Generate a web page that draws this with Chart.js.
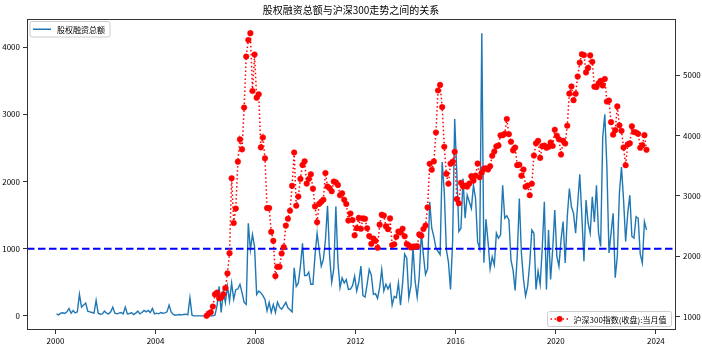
<!DOCTYPE html>
<html>
<head>
<meta charset="utf-8">
<script src="https://cdn.jsdelivr.net/npm/chart.js@4"></script>
<style>
  html, body { margin: 0; padding: 0; background: #fff; }
</style>
</head>
<body>
<canvas id="myChart" width="702" height="347"></canvas>
<script>
const titleText = '股权融资总额与沪深300走势之间的关系';
const equityLabel = '股权融资总额';
const csiLabel = '沪深300指数(收盘):当月值';

// monthly series, first month given by start
const equityStart = { year: 2000, month: 1 };
const equityFinancing = [
  30, 15, 40, 45, 35, 60, 110, 40, 80, 45, 60, 320,
  130, 160, 190, 70, 60, 50, 40, 230, 40, 25, 30, 70,
  40, 30, 60, 130, 40, 30, 40, 50, 30, 130, 30, 35,
  50, 20, 40, 70, 30, 50, 80, 60, 80, 50, 110, 30,
  40, 30, 50, 40, 45, 60, 160, 60, 20, 10, 15, 20,
  15, 20, 25, 15, 270, 10, 0, 0, 0, 0, 0, 0,
  0, 0, 0, 0, 10, 150, 440, 50, 370, 200, 440, 220,
  490, 250, 390, 400, 470, 345, 200, 170, 1380, 985, 1210, 1030,
  320, 370, 345, 300, 245, 75, 200, 50, 170, 50, 205, 130,
  100, 150, 200, 120, 90, 60, 715, 440, 490, 740, 1080, 600,
  600, 650, 470, 470, 900, 1230, 985, 740, 840, 1130, 1640, 890,
  500, 700, 1630, 790, 420, 565, 490, 540, 395, 400, 450, 590,
  370, 500, 740, 300, 280, 470, 690, 610, 320, 330, 260, 420,
  690, 370, 470, 400, 470, 160, 290, 270, 490, 160, 480, 920,
  860, 270, 450, 1030, 520, 280, 590, 1232, 900, 616, 700, 1700,
  1305, 1180, 1010, 960, 911, 2290, 1847, 985, 800, 394, 1100, 2930,
  2142, 1256, 1305, 2044, 1453, 1798, 1700, 1600, 1945, 1748, 1100, 1000,
  4210, 790, 1440, 1100, 700, 880, 760, 1232, 1157, 1207, 1945, 1453,
  1490, 1430, 830, 680, 380, 887, 1748, 936, 542, 296, 443, 788,
  1280, 1231, 394, 665, 468, 1010, 1699, 394, 1280, 542, 985, 1575,
  887, 739, 1132, 1403, 788, 1477, 1896, 1625, 1527, 1231, 1674, 2108,
  1477, 812, 1724, 1379, 1231, 1773, 1400, 1945, 1231, 1034, 2659, 3000,
  2216, 936, 1231, 1527, 567, 887, 1822, 2216, 1724, 1108, 1527, 1797,
  1182, 1158, 1477, 1453, 920, 788, 1403, 1280
];

const csiStart = { year: 2006, month: 1 };
const csi300Close = [
  1010, 1050, 1070, 1165, 1368, 1396, 1302, 1313, 1368, 1472, 1714, 2050,
  3294, 2551, 2790, 3568, 3937, 3772, 4465, 5312, 5587, 5700, 4740, 5345,
  4630, 4685, 3805, 3970, 3624, 2799, 2799, 2403, 2255, 1670, 1825, 1825,
  2045, 2150, 2507, 2622, 2754, 3167, 3720, 2837, 2990, 3282, 3513, 3575,
  3204, 3281, 3359, 3120, 2826, 2564, 2868, 2903, 2936, 3378, 3155, 3128,
  3077, 3239, 3224, 3181, 3010, 3044, 2937, 2866, 2592, 2709, 2600, 2346,
  2465, 2635, 2455, 2627, 2620, 2462, 2333, 2205, 2293, 2254, 2140, 2523,
  2688, 2674, 2495, 2448, 2627, 2184, 2199, 2321, 2409, 2392, 2456, 2330,
  2203, 2178, 2146, 2158, 2160, 2165, 2361, 2338, 2450, 2508, 2809, 3533,
  3434, 3572, 4051, 4749, 4841, 4473, 3816, 3366, 3202, 3534, 3566, 3731,
  2946, 2877, 3218, 3156, 3170, 3154, 3204, 3328, 3253, 3336, 3538, 3310,
  3387, 3452, 3456, 3439, 3492, 3666, 3737, 3822, 3837, 4006, 4006, 4031,
  4275, 4023, 3899, 3756, 3802, 3510, 3517, 3335, 3438, 3153, 3173, 3011,
  3202, 3670, 3872, 3913, 3630, 3825, 3835, 3799, 3814, 3887, 3829, 4097,
  3999, 3940, 3686, 3912, 3868, 4164, 4696, 4816, 4588, 4695, 4980, 5211,
  5351, 5336, 5049, 5123, 5331, 5224, 4812, 4806, 4866, 4908, 4833, 4940,
  4564, 4581, 4223, 4016, 4091, 4485, 4170, 4079, 3804, 3509, 3854, 3872,
  4156, 4061, 4051, 4029, 3799, 3842, 4008, 3765
];

const threshold = 1000;
const xTicks = [2000, 2004, 2008, 2012, 2016, 2020, 2024];
const leftTicks = [0, 1000, 2000, 3000, 4000];
const rightTicks = [1000, 2000, 3000, 4000, 5000];

const FONT = "'Noto Sans CJK SC', 'DejaVu Sans', sans-serif";
const BLUE = '#1f77b4';
const RED = '#ff0000';
const AXIS = '#333333';

function monthSeries(start, values) {
  return values.map((v, i) => ({ x: start.year + (start.month - 1 + i + 0.5) / 12, y: v }));
}

// matplotlib style 5% margins
function padded(vals) {
  const lo = Math.min(...vals), hi = Math.max(...vals);
  const m = (hi - lo) * 0.05;
  return [lo - m, hi + m];
}

const equityPts = monthSeries(equityStart, equityFinancing);
const csiPts = monthSeries(csiStart, csi300Close);
const xRange = padded(equityPts.concat(csiPts).map(p => p.x));
const yRange = padded(equityFinancing);
const y1Range = padded(csi300Close);

const fixTicks = arr => scale => { scale.ticks = arr.map(v => ({ value: v })); };

const tickFont = { family: FONT, size: 8 };

// horizontal reference line, drawn just before the twin-axis series
const refLine = {
  id: 'refLine',
  beforeDatasetDraw(chart, args) {
    if (args.meta.yAxisID !== 'y1') return;
    const { ctx, chartArea } = chart;
    const yPix = chart.scales.y.getPixelForValue(threshold);
    ctx.save();
    ctx.strokeStyle = '#0000ff';
    ctx.lineWidth = 2;
    ctx.setLineDash([7.5, 3.5]);
    ctx.beginPath();
    ctx.moveTo(chartArea.left, yPix);
    ctx.lineTo(chartArea.right, yPix);
    ctx.stroke();
    ctx.restore();
  }
};

function legendBox(ctx, x, y, w, h) {
  ctx.save();
  ctx.fillStyle = 'rgba(255,255,255,0.8)';
  ctx.strokeStyle = '#cccccc';
  ctx.lineWidth = 1;
  ctx.beginPath();
  ctx.roundRect(x, y, w, h, 2);
  ctx.fill();
  ctx.stroke();
  ctx.restore();
}

const frameAndLegends = {
  id: 'frameAndLegends',
  afterDraw(chart) {
    const { ctx, chartArea } = chart;
    ctx.save();
    ctx.strokeStyle = AXIS;
    ctx.lineWidth = 1;
    ctx.strokeRect(chartArea.left + 0.5, chartArea.top + 0.5,
      chartArea.right - chartArea.left - 1, chartArea.bottom - chartArea.top - 1);

    ctx.font = '8px ' + FONT;
    ctx.textBaseline = 'middle';

    // upper-left legend
    let w = 3 + 18 + 6 + ctx.measureText(equityLabel).width + 5;
    let bx = chartArea.left + 3, by = chartArea.top + 2.5, bh = 15.5;
    legendBox(ctx, bx, by, w, bh);
    ctx.strokeStyle = BLUE;
    ctx.lineWidth = 1.5;
    ctx.beginPath();
    ctx.moveTo(bx + 3, by + bh / 2);
    ctx.lineTo(bx + 21, by + bh / 2);
    ctx.stroke();
    ctx.fillStyle = '#000';
    ctx.fillText(equityLabel, bx + 27, by + bh / 2 + 0.5);

    // lower-right legend
    w = 3 + 18 + 5 + ctx.measureText(csiLabel).width + 5;
    bh = 15;
    bx = chartArea.right - 4.5 - w;
    by = chartArea.bottom - 3.5 - bh;
    legendBox(ctx, bx, by, w, bh);
    ctx.strokeStyle = RED;
    ctx.lineWidth = 1.5;
    ctx.setLineDash([1.5, 2.5]);
    ctx.beginPath();
    ctx.moveTo(bx + 3, by + bh / 2);
    ctx.lineTo(bx + 21, by + bh / 2);
    ctx.stroke();
    ctx.setLineDash([]);
    ctx.fillStyle = RED;
    ctx.beginPath();
    ctx.arc(bx + 12, by + bh / 2, 3, 0, Math.PI * 2);
    ctx.fill();
    ctx.fillStyle = '#000';
    ctx.fillText(csiLabel, bx + 26, by + bh / 2 + 0.5);
    ctx.restore();
  }
};

const data = {
  datasets: [
    {
      label: csiLabel,
      data: csiPts,
      yAxisID: 'y1',
      order: 0,
      borderColor: RED,
      borderWidth: 1.5,
      borderDash: [1.5, 2.5],
      pointRadius: 2.8,
      pointBorderWidth: 0.5,
      pointBackgroundColor: RED,
      pointBorderColor: RED,
      tension: 0
    },
    {
      label: equityLabel,
      data: equityPts,
      yAxisID: 'y',
      order: 1,
      borderColor: BLUE,
      borderWidth: 1.4,
      pointRadius: 0,
      tension: 0
    }
  ]
};

const config = {
  type: 'line',
  data: data,
  options: {
    responsive: false,
    animation: false,
    devicePixelRatio: 1,
    layout: { padding: 0 },
    plugins: {
      legend: { display: false },
      tooltip: { enabled: false },
      title: {
        display: true,
        text: titleText,
        color: '#000',
        font: { family: FONT, size: 10, weight: 'normal' },
        padding: { top: 4, bottom: 3 }
      }
    },
    scales: {
      x: {
        type: 'linear',
        min: xRange[0],
        max: xRange[1],
        afterBuildTicks: fixTicks(xTicks),
        afterFit: s => { s.height = 17; },
        ticks: { font: tickFont, color: '#000', padding: 2, maxRotation: 0, autoSkip: false, callback: v => String(v) },
        grid: { drawOnChartArea: false, tickLength: 4, color: AXIS },
        border: { display: false }
      },
      y: {
        position: 'left',
        min: yRange[0],
        max: yRange[1],
        afterBuildTicks: fixTicks(leftTicks),
        afterFit: s => { s.width = 27; },
        ticks: { font: tickFont, color: '#000', padding: 3, callback: v => String(v) },
        grid: { drawOnChartArea: false, tickLength: 4, color: AXIS },
        border: { display: false }
      },
      y1: {
        position: 'right',
        min: y1Range[0],
        max: y1Range[1],
        afterBuildTicks: fixTicks(rightTicks),
        afterFit: s => { s.width = 26; },
        ticks: { font: tickFont, color: '#000', padding: 3, callback: v => String(v) },
        grid: { drawOnChartArea: false, tickLength: 4, color: AXIS },
        border: { display: false }
      }
    }
  },
  plugins: [refLine, frameAndLegends]
};

const myChart = new Chart(document.getElementById('myChart'), config);
</script>
</body>
</html>
